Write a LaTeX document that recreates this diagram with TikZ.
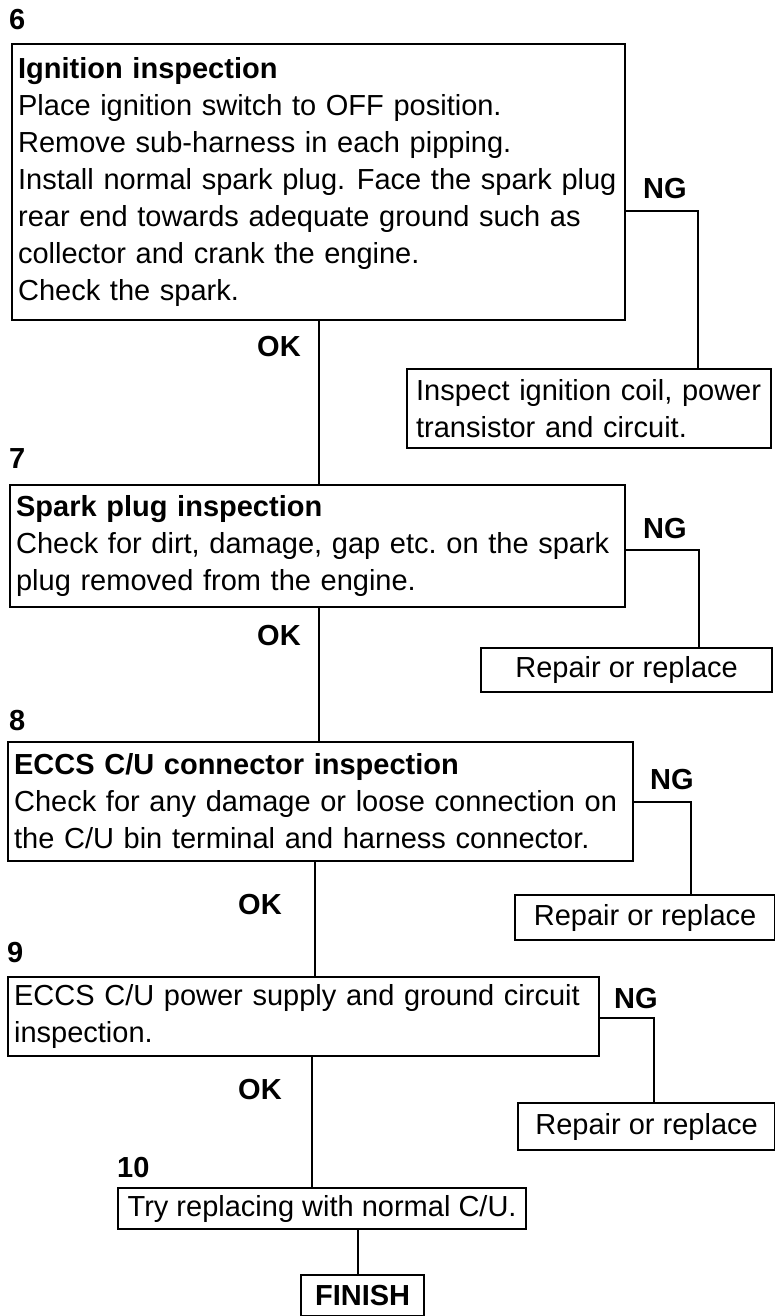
\documentclass[tikz,border=0pt]{standalone}
\usepackage{fontspec}
\setmainfont{Liberation Sans}
\usetikzlibrary{calc,positioning}
\newcommand{\bodyfont}{\fontsize{29}{37}\selectfont}
\tikzset{
  stepbox/.style={draw, line width=2.2pt, anchor=north west,
    inner xsep=6pt, inner ysep=0pt, align=left, font=\bodyfont},
  fixbox/.style={draw, line width=2.2pt, anchor=north west,
    inner sep=0pt, align=center, font=\bodyfont},
  tag/.style={anchor=base west, inner sep=0pt, font=\bodyfont\bfseries},
  wire/.style={line width=1.4pt}
}

\begin{document}
\begin{tikzpicture}[x=1pt,y=-1pt]
  \useasboundingbox (0,0) rectangle (775,1316);
  % step 6
  \node[tag] (n6) at (9,30) {6};
  \node[stepbox, text width=601pt, minimum height=276pt] (b6) at (11,43)
    {{\bfseries Ignition inspection}\\
     Place ignition switch to OFF position.\\
     Remove sub-harness in each pipping.\\
     \mbox{Install normal spark plug.\hspace{0.4em}Face the spark plug}\\
     rear end towards adequate ground such as\\
     collector and crank the engine.\\
     Check the spark.};
  \node[tag] (lng6) at (643,198) {NG};
  \node[tag] (lok6) at (257,356) {OK};
  \node[stepbox, inner xsep=9pt, text width=346pt, minimum height=79pt] (insp) at (406,368)
    {Inspect ignition coil, power\\ transistor and circuit.};
  % step 7
  \node[tag] (n7) at (9,468) {7};
  \node[stepbox, text width=603pt, minimum height=122pt] (b7) at (9,484)
    {{\bfseries Spark plug inspection}\\
     Check for dirt, damage, gap etc.\ on the spark\\
     plug removed from the engine.};
  \node[tag] (lng7) at (643,538) {NG};
  \node[tag] (lok7) at (257,645) {OK};
  \node[fixbox, minimum width=291pt, minimum height=44pt] (rep7) at (480,647) {Repair or replace};
  % step 8
  \node[tag] (n8) at (9,730) {8};
  \node[stepbox, text width=613pt, minimum height=119pt] (b8) at (7,741)
    {{\bfseries ECCS C/U connector inspection}\\
     Check for any damage or loose connection on\\
     the C/U bin terminal and harness connector.};
  \node[tag] (lng8) at (650,789) {NG};
  \node[tag] (lok8) at (238,914) {OK};
  \node[fixbox, minimum width=260pt, minimum height=45pt] (rep8) at (514,894) {Repair or replace};
  % step 9
  \node[tag] (n9) at (7,962) {9};
  \node[stepbox, text width=579pt, minimum height=79pt] (b9) at (7,976)
    {ECCS C/U power supply and ground circuit\\ inspection.};
  \node[tag] (lng9) at (614,1008) {NG};
  \node[tag] (lok9) at (238,1099) {OK};
  \node[fixbox, minimum width=257pt, minimum height=47pt] (rep9) at (517,1102) {Repair or replace};
  % step 10
  \node[tag] (n10) at (117,1177) {10};
  \node[fixbox, minimum width=408pt, minimum height=41pt] (b10) at (117,1187) {Try replacing with normal C/U.};
  \node[fixbox, minimum width=123pt, minimum height=41pt, font=\bodyfont\bfseries] (fin) at (300,1274) {FINISH};

  % NG branches
  \coordinate (j6) at (698,211);
  \coordinate (j7) at (699,550);
  \coordinate (j8) at (691,802);
  \coordinate (j9) at (654,1018);
  \draw[wire] (b6.east |- j6) -- (j6) -- (j6 |- insp.north);
  \draw[wire] (b7.east |- j7) -- (j7) -- (j7 |- rep7.north);
  \draw[wire] (b8.east |- j8) -- (j8) -- (j8 |- rep8.north);
  \draw[wire] (b9.east |- j9) -- (j9) -- (j9 |- rep9.north);
  % OK branches
  \coordinate (k6) at (319,0);
  \coordinate (k7) at (319,0);
  \coordinate (k8) at (315,0);
  \coordinate (k9) at (312,0);
  \coordinate (k10) at (358,0);
  \draw[wire] (b6.south -| k6) -- (b7.north -| k6);
  \draw[wire] (b7.south -| k7) -- (b8.north -| k7);
  \draw[wire] (b8.south -| k8) -- (b9.north -| k8);
  \draw[wire] (b9.south -| k9) -- (b10.north -| k9);
  \draw[wire] (b10.south -| k10) -- (fin.north -| k10);
\end{tikzpicture}
\end{document}
